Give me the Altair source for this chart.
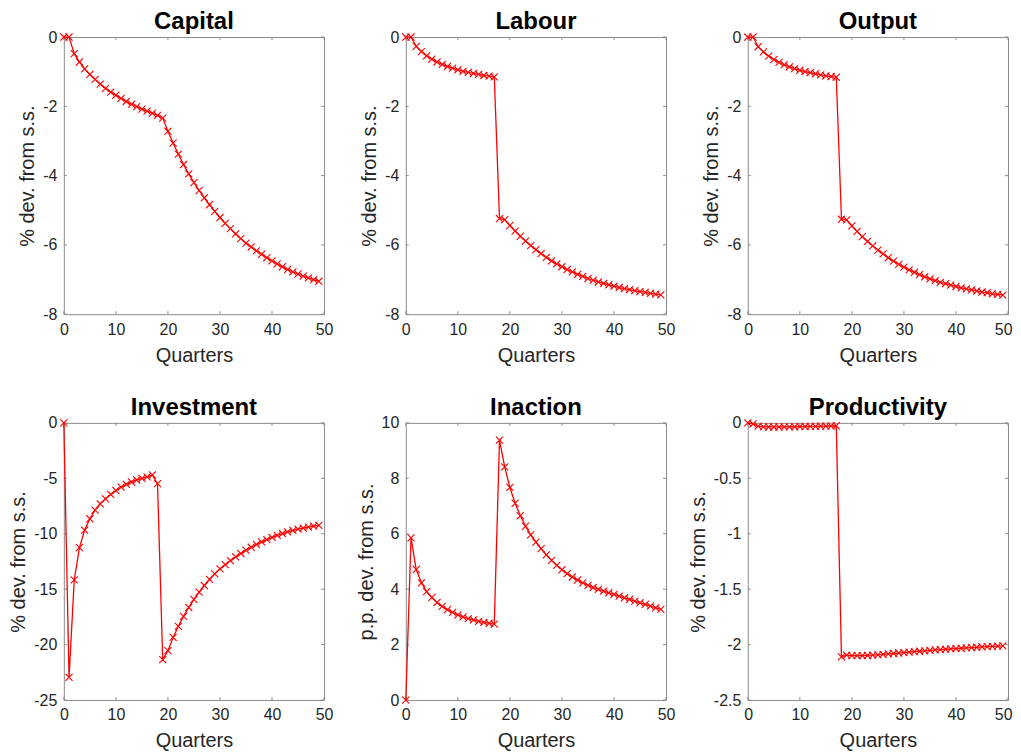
import altair as alt
import pandas as pd

quarters = list(range(50))

capital = [0, 0, -0.48, -0.72, -0.92, -1.08, -1.22, -1.36, -1.48, -1.59,
           -1.68, -1.77, -1.86, -1.94, -2.01, -2.08, -2.14, -2.20, -2.26, -2.34,
           -2.72, -3.06, -3.38, -3.68, -3.95, -4.20, -4.43, -4.64, -4.84, -5.03,
           -5.21, -5.38, -5.53, -5.68, -5.82, -5.95, -6.06, -6.17, -6.27, -6.37,
           -6.46, -6.55, -6.63, -6.71, -6.78, -6.84, -6.90, -6.95, -7.00, -7.05]

labour = [0, 0, -0.27, -0.42, -0.54, -0.64, -0.72, -0.79, -0.85, -0.90,
          -0.95, -0.99, -1.02, -1.05, -1.08, -1.11, -1.13, -1.15, -5.24, -5.27,
          -5.44, -5.60, -5.75, -5.89, -6.02, -6.14, -6.25, -6.36, -6.46, -6.55,
          -6.63, -6.71, -6.78, -6.85, -6.91, -6.97, -7.02, -7.07, -7.11, -7.15,
          -7.19, -7.23, -7.26, -7.29, -7.32, -7.35, -7.37, -7.40, -7.42, -7.44]

output = [0, 0, -0.28, -0.43, -0.55, -0.65, -0.73, -0.80, -0.86, -0.91,
          -0.96, -1.00, -1.03, -1.06, -1.09, -1.12, -1.14, -1.16, -5.26, -5.28,
          -5.45, -5.61, -5.76, -5.90, -6.03, -6.15, -6.26, -6.37, -6.47, -6.56,
          -6.64, -6.72, -6.79, -6.86, -6.92, -6.98, -7.03, -7.08, -7.12, -7.16,
          -7.20, -7.24, -7.27, -7.30, -7.33, -7.36, -7.38, -7.41, -7.43, -7.45]

investment = [0, -22.96, -14.16, -11.25, -9.67, -8.65, -7.87, -7.30, -6.85, -6.45,
              -6.10, -5.80, -5.55, -5.33, -5.15, -5.00, -4.87, -4.70, -5.48, -21.35,
              -20.55, -19.35, -18.35, -17.45, -16.65, -15.93, -15.27, -14.67, -14.12, -13.62,
              -13.17, -12.79, -12.43, -12.09, -11.78, -11.49, -11.22, -10.97, -10.74, -10.53,
              -10.33, -10.15, -9.98, -9.83, -9.70, -9.59, -9.49, -9.40, -9.32, -9.25]

inaction = [0, 5.85, 4.71, 4.23, 3.91, 3.70, 3.52, 3.38, 3.26, 3.16,
            3.07, 3.00, 2.94, 2.89, 2.84, 2.80, 2.77, 2.74, 9.38, 8.41,
            7.67, 7.10, 6.65, 6.27, 5.96, 5.70, 5.46, 5.24, 5.04, 4.86,
            4.70, 4.56, 4.44, 4.33, 4.23, 4.14, 4.06, 3.99, 3.93, 3.87,
            3.81, 3.75, 3.69, 3.63, 3.57, 3.51, 3.45, 3.39, 3.33, 3.27]

productivity = [0, -0.01, -0.03, -0.036, -0.037, -0.037, -0.037, -0.036, -0.036, -0.035,
                -0.034, -0.033, -0.032, -0.031, -0.030, -0.029, -0.028, -0.026, -2.11, -2.095,
                -2.10, -2.10, -2.10, -2.098, -2.095, -2.092, -2.088, -2.084, -2.080, -2.076,
                -2.072, -2.068, -2.064, -2.060, -2.056, -2.052, -2.048, -2.045, -2.042, -2.039,
                -2.036, -2.033, -2.030, -2.027, -2.024, -2.021, -2.018, -2.016, -2.014, -2.012]

x_ticks = [0, 10, 20, 30, 40, 50]

panels = [
    ("Capital", capital, "% dev. from s.s.", [-8, 0], [-8, -6, -4, -2, 0]),
    ("Labour", labour, "% dev. from s.s.", [-8, 0], [-8, -6, -4, -2, 0]),
    ("Output", output, "% dev. from s.s.", [-8, 0], [-8, -6, -4, -2, 0]),
    ("Investment", investment, "% dev. from s.s.", [-25, 0], [-25, -20, -15, -10, -5, 0]),
    ("Inaction", inaction, "p.p. dev. from s.s.", [0, 10], [0, 2, 4, 6, 8, 10]),
    ("Productivity", productivity, "% dev. from s.s.", [-2.5, 0], [-2.5, -2, -1.5, -1, -0.5, 0]),
]

W, H = 261, 278
FONT = "Liberation Sans"
FRAME = "#8c8c8c"
TXT = "#262626"
RED = "#ff0000"
LABEL_EXPR = "datum.value < 0 ? '-' + format(-datum.value, '~g') : format(datum.value, '~g')"


def make_panel(idx, title, values, ytitle, domain, yticks):
    df = pd.DataFrame({"q": quarters, "v": values})
    last_col = (idx % 3 == 2)
    if last_col:
        xaxis = alt.Axis(values=x_ticks, title="Quarters", labelExpr=LABEL_EXPR,
                         labelFlush=True, labelFlushOffset=4)
    else:
        xaxis = alt.Axis(values=x_ticks, title="Quarters", labelExpr=LABEL_EXPR,
                         labelFlush=False)
    xenc = alt.X("q:Q", scale=alt.Scale(domain=[0, 50], nice=False, zero=False), axis=xaxis)
    yenc = alt.Y("v:Q", scale=alt.Scale(domain=domain, nice=False, zero=False),
                 axis=alt.Axis(values=yticks, title=ytitle, labelExpr=LABEL_EXPR,
                               labelFlush=False, titlePadding=5))
    line = alt.Chart(df).mark_line(color=RED, strokeWidth=1.3).encode(x=xenc, y=yenc)
    pts = alt.Chart(df).mark_point(shape="M-1,-1L1,1M1,-1L-1,1", size=50, color=RED,
                                   filled=False, strokeWidth=1.1, opacity=1).encode(x=xenc, y=yenc)
    xt = pd.DataFrame({"q": x_ticks})
    yt = pd.DataFrame({"v": yticks})
    top_t = alt.Chart(xt).mark_rule(color=FRAME, strokeWidth=1).encode(
        x="q:Q", y=alt.value(0), y2=alt.value(3))
    bot_t = alt.Chart(xt).mark_rule(color=FRAME, strokeWidth=1).encode(
        x="q:Q", y=alt.value(H), y2=alt.value(H - 3))
    left_t = alt.Chart(yt).mark_rule(color=FRAME, strokeWidth=1).encode(
        y="v:Q", x=alt.value(0), x2=alt.value(3))
    right_t = alt.Chart(yt).mark_rule(color=FRAME, strokeWidth=1).encode(
        y="v:Q", x=alt.value(W), x2=alt.value(W - 3))
    return alt.layer(top_t, bot_t, left_t, right_t, line, pts).properties(
        width=W, height=H,
        title=alt.TitleParams(title, fontSize=24, fontWeight="bold", font=FONT,
                              color="black", offset=-5),
    )


charts = [make_panel(i, *p) for i, p in enumerate(panels)]
chart = alt.concat(*charts, columns=3, spacing={"row": 109, "column": 82},
                   bounds="flush").properties(
    padding={"left": 0, "top": 0, "right": 0, "bottom": 0}
).configure_view(
    stroke=FRAME, strokeWidth=1
).configure_axis(
    grid=False, domain=False, ticks=False, tickSize=0,
    labelFont=FONT, labelFontSize=16, labelColor=TXT, labelPadding=7,
    titleFont=FONT, titleFontSize=20, titleColor=TXT, titleFontWeight="normal",
).configure_axisX(titlePadding=8)

chart.save("out.html", embed_options={"renderer": "svg", "actions": False})
